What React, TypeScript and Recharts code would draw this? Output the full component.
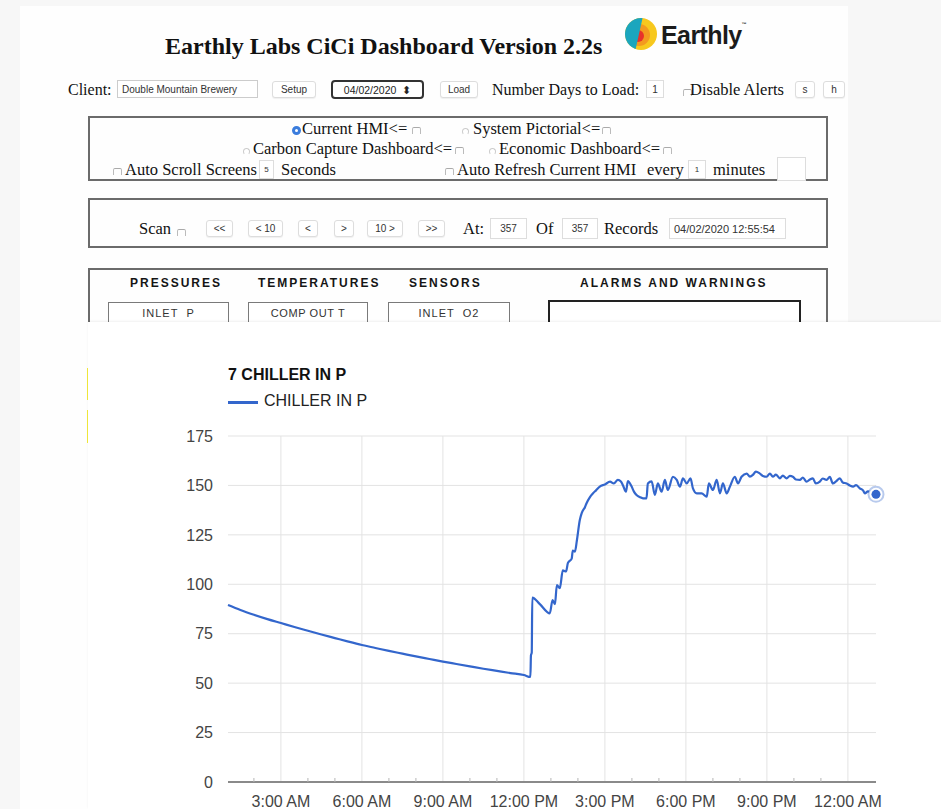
import React from "react"
import { LineChart, Line, XAxis, YAxis, CartesianGrid } from "recharts"

// readings of "CHILLER IN P" (hours since midnight of 04/01, value)
const hours = [
  1.04, 1.5, 2, 2.5, 3, 3.5, 4, 4.5, 5, 5.5, 6, 6.5, 7, 7.5, 8, 8.5, 9, 9.5, 10, 10.5,
  11, 11.5, 12, 12.24, 12.26, 12.29, 12.31, 12.59, 12.96, 13.06, 13.15, 13.22, 13.33,
  13.44, 13.56, 13.63, 13.77, 13.81, 13.89, 13.96, 14.07, 14.14, 14.26, 14.32, 14.44,
  14.56, 14.67, 14.81, 15.0, 15.19, 15.33, 15.48, 15.59, 15.67, 15.78, 15.85, 15.99,
  16.07, 16.17, 16.3, 16.41, 16.54, 16.59, 16.73, 16.85, 16.96, 17.1, 17.22, 17.33,
  17.52, 17.66, 17.78, 17.89, 18.03, 18.17, 18.26, 18.4, 18.58, 18.77, 18.85, 19.0,
  19.14, 19.26, 19.37, 19.51, 19.63, 19.81, 19.93, 20.06, 20.25, 20.37, 20.48, 20.59,
  20.74, 20.85, 20.99, 21.11, 21.22, 21.33, 21.48, 21.59, 21.73, 21.85, 21.96, 22.07,
  22.22, 22.33, 22.47, 22.59, 22.7, 22.81, 22.96, 23.07, 23.21, 23.33, 23.44, 23.56,
  23.7, 23.81, 23.95, 24.07, 24.19, 24.3, 24.44, 24.56, 24.63, 24.74, 24.81, 24.93, 25.04,
]
const chillerInP = [
  89.5, 87, 84.6, 82.4, 80.4, 78.4, 76.5, 74.6, 72.8, 71, 69.3, 67.8, 66.3, 64.9, 63.5, 62.2, 60.9, 59.7, 58.5, 57.3,
  56.2, 55.1, 54.1, 53.1, 64, 65.5, 93.3, 90, 85.3, 92, 90, 99.6, 98,
  107, 106.5, 110.8, 113, 117, 116.5, 122, 132.5, 136, 139, 141, 144,
  146, 147.5, 149.4, 150.5, 151.9, 151, 152.8, 152, 150, 146.8, 152.2, 149.4,
  147, 145.2, 144, 143.5, 143.5, 151, 152, 145.2, 151, 146.8, 152.8, 147.7,
  154.4, 152.8, 149.4, 153.6, 151, 153.6, 148.5, 146, 146, 144.3, 151, 147.7,
  152.8, 146, 151, 146, 149.4, 154.4, 151, 154.4, 156, 154.5, 155.3, 157,
  156, 154.8, 154.4, 156, 154.4, 155.5, 153.6, 155, 153.6, 154.8, 154.4, 153,
  152.8, 154, 151.9, 153, 153.6, 151, 151.9, 153.5, 152.8, 154.4, 151, 152,
  153.6, 151.5, 151, 150, 149.4, 150.2, 148.5, 147.5, 146, 147, 146.8, 145.5, 145.5,
]
const yTicks = [0, 25, 50, 75, 100, 125, 150, 175]
const majorHours = [3, 6, 9, 12, 15, 18, 21, 24]
const hourLabels = ["3:00 AM", "6:00 AM", "9:00 AM", "12:00 PM", "3:00 PM", "6:00 PM", "9:00 PM", "12:00 AM"]
const minorHours = [2, 3, 4, 5, 6, 7, 8, 9, 10, 11, 12, 13, 14, 15, 16, 17, 18, 19, 20, 21, 22, 23, 24]
const seriesName = "CHILLER IN P"
const chartTitle = "7 CHILLER IN P"

const data = hours.map((h, i) => ({ h, p: chillerInP[i] }))

const BLUE = "#3366cc"
const SANS = "Arial, 'Liberation Sans', sans-serif"
const SERIF = "'Times New Roman', 'Liberation Serif', serif"

function Txt({ x, y, size = 16.5, font = SERIF, style, children }: any) {
  return (
    <div style={{
      position: "absolute", left: x, top: y - size * 0.6 + 1, fontSize: size,
      lineHeight: `${size * 1.2}px`, whiteSpace: "nowrap", fontFamily: font, color: "#111", ...style,
    }}>{children}</div>
  )
}

function Rect({ x, y, w, h, border = "1px solid #d4d4d4", radius = 0, bg = "#fff", size = 10, style, children }: any) {
  return (
    <div style={{
      position: "absolute", left: x, top: y, width: w, height: h, boxSizing: "border-box",
      border, borderRadius: radius, background: bg, display: "flex", alignItems: "center",
      justifyContent: "center", fontFamily: SANS, fontSize: size, color: "#333", whiteSpace: "nowrap",
      overflow: "hidden", ...style,
    }}>{children}</div>
  )
}

const Chk = ({ x, y }: any) => (
  <div style={{ position: "absolute", left: x, top: y, width: 7, height: 6, borderTop: "1px solid #aaa", borderLeft: "1px solid #bbb", borderRight: "1px solid #bbb", borderRadius: "2px 2px 0 0" }} />
)
const Radio = ({ x, y, on }: any) => (
  <div style={{
    position: "absolute", left: x, top: y, width: on ? 9 : 7, height: on ? 9 : 7, borderRadius: "50%", boxSizing: "border-box",
    border: on ? "3px solid #3b7ddd" : "1px solid #ccc", borderBottomColor: on ? "#3b7ddd" : "transparent", background: "#fff",
  }} />
)
const Btn = ({ x, y, w, h = 17, children }: any) => (
  <Rect x={x} y={y} w={w} h={h} radius={3} border="1px solid #ddd" style={{ boxShadow: "0 1px 1px rgba(0,0,0,0.06)" }}>{children}</Rect>
)

function Logo() {
  return (
    <div style={{ position: "absolute", left: 623, top: 16 }}>
      <svg width={36} height={36} viewBox="0 0 36 36">
        <defs>
          <clipPath id="lc"><circle cx={18} cy={18} r={16} /></clipPath>
        </defs>
        <g clipPath="url(#lc)">
          <rect x={0} y={0} width={36} height={36} fill="#f7c81e" />
          <circle cx={16} cy={19} r={11} fill="#f39a1f" />
          <circle cx={15} cy={20} r={6} fill="#e8322b" />
          <polygon points="0,0 20,0 12,36 0,36" fill="#1ba6be" />
        </g>
      </svg>
      <div style={{ position: "absolute", left: 38, top: 5, fontFamily: SANS, fontWeight: 700, fontSize: 25, color: "#1b1b1b", letterSpacing: -0.6, whiteSpace: "nowrap" }}>
        Earthly<span style={{ fontSize: 5, verticalAlign: "top" }}>™</span>
      </div>
    </div>
  )
}

function HourTick(props: any) {
  const { x, y, payload } = props
  const axisY = y - 14
  const i = majorHours.indexOf(payload.value)
  return (
    <g>
      {i < 0 && <line x1={x} x2={x} y1={axisY - 4} y2={axisY} stroke="#b5b5b5" strokeWidth={1} />}
      {i >= 0 && (
        <text x={x} y={axisY + 25} textAnchor="middle" fill="#444" fontSize={16} fontFamily={SANS}>{hourLabels[i]}</text>
      )}
    </g>
  )
}

function EndDot(props: any) {
  const { cx, cy, index } = props
  if (index !== data.length - 1) return <g key={index} />
  return (
    <g key={index}>
      <circle cx={cx} cy={cy} r={7.5} fill="#fff" stroke={BLUE} strokeOpacity={0.35} strokeWidth={2} />
      <circle cx={cx} cy={cy} r={4.5} fill={BLUE} />
    </g>
  )
}

function Dashboard() {
  return (
    <>
      <div style={{ position: "absolute", left: 20, top: 6, width: 828, height: 803, background: "#fefefe" }} />
      <Txt x={165} y={45} size={24} style={{ fontWeight: 700 }}>
        Earthly Labs CiCi Dashboard Version 2.2s
      </Txt>
      <Logo />

      <Txt x={68} y={89} size={16}>Client:</Txt>
      <Rect x={117} y={80} w={141} h={18} border="1px solid #ccc" style={{ justifyContent: "flex-start", paddingLeft: 4 }}>Double Mountain Brewery</Rect>
      <Btn x={272} y={81} w={44}>Setup</Btn>
      <Rect x={331} y={80} w={93} h={19} radius={4} border="2px solid #333" size={10.5} style={{ color: "#222" }}>04/02/2020 &nbsp;⬍</Rect>
      <Btn x={440} y={81} w={38}>Load</Btn>
      <Txt x={492} y={89} size={16}>Number Days to Load:</Txt>
      <Rect x={646} y={80} w={18} h={18} border="1px solid #ddd">1</Rect>
      <Chk x={683} y={89} />
      <Txt x={690} y={89} size={16.5}>Disable Alerts</Txt>
      <Btn x={795} y={81} w={20}>s</Btn>
      <Btn x={823} y={81} w={22}>h</Btn>

      <Rect x={88} y={116} w={740} h={65} border="2px solid #6b6b6b" bg="transparent" />
      <Radio x={292} y={126} on />
      <Txt x={302} y={128}>Current HMI&lt;=</Txt>
      <Chk x={412} y={127} />
      <Radio x={462} y={128} />
      <Txt x={473} y={128}>System Pictorial&lt;=</Txt>
      <Chk x={602} y={127} />
      <Radio x={243} y={148} />
      <Txt x={253} y={148}>Carbon Capture Dashboard&lt;=</Txt>
      <Chk x={455} y={147} />
      <Radio x={489} y={148} />
      <Txt x={499} y={148}>Economic Dashboard&lt;=</Txt>
      <Chk x={663} y={147} />
      <Chk x={113} y={168} />
      <Txt x={125} y={169}>Auto Scroll Screens</Txt>
      <Rect x={259} y={160} w={15} h={19} border="1px solid #ddd" size={8}>5</Rect>
      <Txt x={281} y={169}>Seconds</Txt>
      <Chk x={445} y={168} />
      <Txt x={457} y={169}>Auto Refresh Current HMI</Txt>
      <Txt x={647} y={169}>every</Txt>
      <Rect x={688} y={160} w={18} h={19} border="1px solid #ddd" size={8}>1</Rect>
      <Txt x={713} y={169}>minutes</Txt>
      <Rect x={777} y={157} w={29} h={24} border="1px solid #ddd" />

      <Rect x={88} y={198} w={740} h={50} border="2px solid #6b6b6b" bg="transparent" />
      <Txt x={139} y={228}>Scan</Txt>
      <Chk x={177} y={229} />
      <Btn x={206} y={220} w={27}>&lt;&lt;</Btn>
      <Btn x={248} y={220} w={35}>&lt; 10</Btn>
      <Btn x={298} y={220} w={20}>&lt;</Btn>
      <Btn x={334} y={220} w={20}>&gt;</Btn>
      <Btn x={367} y={220} w={36}>10 &gt;</Btn>
      <Btn x={418} y={220} w={27}>&gt;&gt;</Btn>
      <Txt x={463} y={228}>At:</Txt>
      <Rect x={490} y={218} w={37} h={21} border="1px solid #ddd">357</Rect>
      <Txt x={536} y={228}>Of</Txt>
      <Rect x={562} y={218} w={36} h={21} border="1px solid #ddd">357</Rect>
      <Txt x={604} y={228}>Records</Txt>
      <Rect x={669} y={218} w={117} h={21} border="1px solid #ddd" size={11} style={{ justifyContent: "flex-start", paddingLeft: 4 }}>04/02/2020 12:55:54</Rect>

      <Rect x={88} y={268} w={740} h={90} border="2px solid #6b6b6b" bg="transparent" />
      {[["PRESSURES", 130], ["TEMPERATURES", 258], ["SENSORS", 409], ["ALARMS AND WARNINGS", 580]].map(([t, x]) => (
        <Txt key={t as string} x={x} y={282} size={12} font={SANS} style={{ fontWeight: 900, letterSpacing: 2, color: "#151515" }}>{t}</Txt>
      ))}
      <Rect x={108} y={302} w={121} h={30} border="1.5px solid #7a7a7a" size={11} style={{ alignItems: "flex-start", paddingTop: 4, letterSpacing: 1 }}>INLET&nbsp; P</Rect>
      <Rect x={248} y={302} w={120} h={30} border="1.5px solid #7a7a7a" size={11} style={{ alignItems: "flex-start", paddingTop: 4, letterSpacing: 0.6 }}>COMP OUT T</Rect>
      <Rect x={388} y={302} w={122} h={30} border="1.5px solid #7a7a7a" size={11} style={{ alignItems: "flex-start", paddingTop: 4, letterSpacing: 1 }}>INLET&nbsp; O2</Rect>
      <Rect x={548} y={300} w={253} h={40} border="2px solid #222" />

      <div style={{ position: "absolute", left: 87, top: 368, width: 2, height: 32, background: "#f2ea3a" }} />
      <div style={{ position: "absolute", left: 87, top: 410, width: 2, height: 33, background: "#f2ea3a" }} />
    </>
  )
}

export default function App() {
  return (
    <div style={{ position: "fixed", left: 0, top: 0, width: 941, height: 809, background: "#f7f7f7", overflow: "hidden" }}>
      <Dashboard />
      <div style={{ position: "absolute", left: 88, top: 322, width: 853, height: 487, background: "#fff", boxShadow: "0 -1px 2px rgba(0,0,0,0.06)" }}>
        <div style={{ position: "absolute", left: 140, top: 44, fontFamily: SANS, fontWeight: 700, fontSize: 16, color: "#111", whiteSpace: "nowrap" }}>{chartTitle}</div>
        <div style={{ position: "absolute", left: 140, top: 79, width: 30, height: 2.5, background: BLUE }} />
        <div style={{ position: "absolute", left: 176, top: 70, fontFamily: SANS, fontSize: 16, color: "#222", whiteSpace: "nowrap" }}>{seriesName}</div>
        <LineChart width={853} height={487} data={data} margin={{ top: 114, right: 65, bottom: 0, left: 0 }}>
          <CartesianGrid stroke="#e3e3e3" strokeWidth={1} verticalValues={majorHours} />
          <YAxis
            domain={[0, 175]} ticks={yTicks} width={140} axisLine={false} tickLine={false}
            tickSize={0} tickMargin={15} tick={{ fill: "#444", fontSize: 16, fontFamily: SANS }}
          />
          <XAxis
            type="number" dataKey="h" domain={[1.04, 25.04]} ticks={minorHours} interval={0}
            height={27} tickSize={0} tickMargin={14} tickLine={false}
            axisLine={{ stroke: "#8a8a8a", strokeWidth: 2 }} tick={<HourTick />}
          />
          <Line
            type="monotoneX" dataKey="p" name={seriesName} stroke={BLUE} strokeWidth={2.2}
            dot={EndDot} activeDot={false} isAnimationActive={false}
          />
        </LineChart>
      </div>
    </div>
  )
}
